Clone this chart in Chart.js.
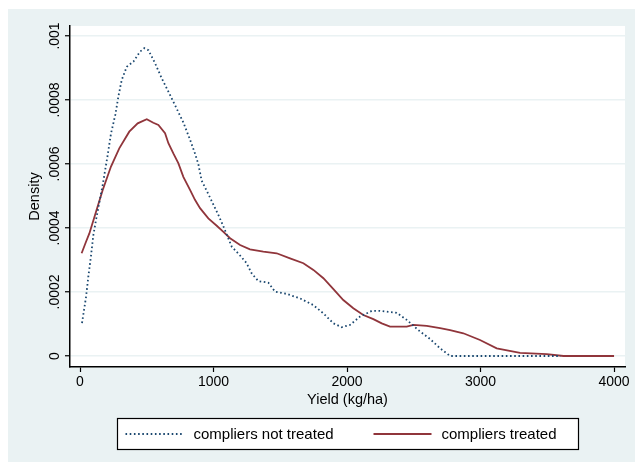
<!DOCTYPE html>
<html>
<head>
<meta charset="utf-8">
<script src="https://cdn.jsdelivr.net/npm/chart.js@4"></script>
<style>
  body { margin: 0; background: #fff; }
  #wrap { position: absolute; left: 8px; top: 9px; width: 627px; height: 453px; background: #eaf2f3; }
</style>
</head>
<body>
<div id="wrap"><canvas id="chart" width="627" height="453"></canvas></div>
<script>
// density curves (yield kg/ha -> density)
const notTreatedX = [15, 45, 62, 82, 100, 122, 170, 206, 232, 265, 287, 312, 350, 400, 449, 482, 512, 562, 612, 674, 724, 774, 824, 861, 886, 911, 974, 1036, 1073, 1136, 1199, 1248, 1286, 1336, 1411, 1461, 1548, 1648, 1748, 1823, 1898, 1960, 2022, 2097, 2185, 2247, 2372, 2447, 2534, 2622, 2697, 2772, 3600];
const notTreatedY = [0.000103, 0.000184, 0.000247, 0.000312, 0.000378, 0.000430, 0.000535, 0.000625, 0.000695, 0.000755, 0.000810, 0.000862, 0.000904, 0.000920, 0.000951, 0.000962, 0.000956, 0.000915, 0.000868, 0.000816, 0.000773, 0.000730, 0.000676, 0.000633, 0.000600, 0.000548, 0.000495, 0.000441, 0.000406, 0.000342, 0.000314, 0.000290, 0.000258, 0.000234, 0.000229, 0.000201, 0.000194, 0.000180, 0.000159, 0.000133, 0.000102, 0.000090, 0.000097, 0.000123, 0.000141, 0.000141, 0.000135, 0.000113, 0.000081, 0.000053, 0.000024, 0, 0];

const treatedX = [12, 45, 70, 120, 170, 232, 294, 369, 432, 500, 549, 587, 637, 662, 699, 737, 774, 824, 861, 899, 961, 1024, 1074, 1124, 1199, 1273, 1373, 1473, 1573, 1673, 1748, 1823, 1898, 1972, 2047, 2122, 2197, 2260, 2322, 2447, 2497, 2597, 2697, 2772, 2871, 2996, 3121, 3296, 3496, 3621, 4000];
const treatedY = [0.000321, 0.000357, 0.000383, 0.000451, 0.000519, 0.000592, 0.000649, 0.000701, 0.000727, 0.000740, 0.000729, 0.000722, 0.000696, 0.000665, 0.000633, 0.000602, 0.000560, 0.000519, 0.000488, 0.000462, 0.000430, 0.000407, 0.000388, 0.000368, 0.000347, 0.000333, 0.000326, 0.000321, 0.000305, 0.000290, 0.000269, 0.000243, 0.000209, 0.000175, 0.000149, 0.000128, 0.000115, 0.000102, 0.000092, 0.000092, 0.000097, 0.000094, 0.000087, 0.000081, 0.000071, 0.000050, 0.000024, 0.000010, 0.000006, 0, 0];

const seriesNames = ["compliers not treated", "compliers treated"];
const xTicks = [0, 1000, 2000, 3000, 4000];
const yTicks = [0, 0.0002, 0.0004, 0.0006, 0.0008, 0.001];
const yTickLabels = ["0", ".0002", ".0004", ".0006", ".0008", ".001"];

const NAVY = "#1a476f";
const MAROON = "#90353b";
const FONT = "'Liberation Sans', Arial, sans-serif";

const pts = (xs, ys) => xs.map((x, i) => ({ x, y: ys[i] }));

// white plot region
const plotBg = {
  id: "plotBg",
  beforeDraw(chart) {
    const { ctx, chartArea: a } = chart;
    ctx.save();
    ctx.fillStyle = "#fff";
    ctx.fillRect(a.left, a.top, a.right - a.left, a.bottom - a.top);
    ctx.restore();
  }
};

// vertical y tick labels, stata style
const yLabels = {
  id: "yLabels",
  afterDraw(chart) {
    const { ctx } = chart;
    const y = chart.scales.y;
    ctx.save();
    ctx.fillStyle = "#000";
    ctx.font = "14px " + FONT;
    ctx.textAlign = "center";
    ctx.textBaseline = "alphabetic";
    yTicks.forEach((v, i) => {
      ctx.save();
      ctx.translate(50.5, y.getPixelForValue(v));
      ctx.rotate(-Math.PI / 2);
      ctx.fillText(yTickLabels[i], 0, 0);
      ctx.restore();
    });
    ctx.restore();
  }
};

// boxed legend under the axis title
const boxLegend = {
  id: "boxLegend",
  afterDraw(chart) {
    const { ctx, chartArea: a } = chart;
    const ds = chart.data.datasets;
    const w = 461, h = 31;
    const left = Math.round((a.left + a.right) / 2 - w / 2) + 0.5;
    const top = a.bottom + 51.5;
    ctx.save();
    ctx.fillStyle = "#fff";
    ctx.fillRect(left, top, w, h);
    ctx.strokeStyle = "#000";
    ctx.lineWidth = 1.2;
    ctx.strokeRect(left, top, w, h);

    ctx.font = "15px " + FONT;
    ctx.textBaseline = "alphabetic";
    const lineY = top + h / 2;
    const starts = [left + 8, left + 256];
    ds.forEach((d, i) => {
      const x0 = starts[i];
      ctx.beginPath();
      ctx.strokeStyle = d.borderColor;
      ctx.lineWidth = d.borderWidth;
      ctx.setLineDash(d.borderDash || []);
      ctx.moveTo(x0, lineY);
      ctx.lineTo(x0 + 58, lineY);
      ctx.stroke();
      ctx.setLineDash([]);
      ctx.fillStyle = "#000";
      ctx.fillText(d.label, x0 + 68, top + 20);
    });
    ctx.restore();
  }
};

new Chart(document.getElementById("chart"), {
  type: "line",
  data: {
    datasets: [
      {
        label: seriesNames[0],
        data: pts(notTreatedX, notTreatedY),
        borderColor: NAVY,
        borderWidth: 1.8,
        borderDash: [1.6, 2.6],
        pointRadius: 0,
        tension: 0,
        fill: false
      },
      {
        label: seriesNames[1],
        data: pts(treatedX, treatedY),
        borderColor: MAROON,
        borderWidth: 1.8,
        pointRadius: 0,
        tension: 0,
        fill: false
      }
    ]
  },
  options: {
    responsive: false,
    animation: false,
    layout: { padding: { top: 17, right: 10, left: 0, bottom: 0 } },
    plugins: {
      legend: { display: false },
      tooltip: { enabled: false }
    },
    scales: {
      x: {
        type: "linear",
        min: -75,
        max: 4082,
        afterBuildTicks: s => { s.ticks = xTicks.map(v => ({ value: v })); },
        afterFit: s => { s.height = 95; },
        grid: { drawOnChartArea: false, drawTicks: true, tickLength: 5, tickColor: "#000", tickWidth: 1.2 },
        border: { color: "#000", width: 1.5 },
        ticks: {
          color: "#000",
          font: { family: FONT, size: 14 },
          padding: 2,
          maxRotation: 0,
          callback: v => String(v)
        },
        title: {
          display: true,
          text: "Yield (kg/ha)",
          color: "#000",
          font: { family: FONT, size: 14.5 },
          padding: { top: 0, bottom: 53.6 }
        }
      },
      y: {
        type: "linear",
        min: -0.0000344,
        max: 0.00103125,
        afterBuildTicks: s => { s.ticks = yTicks.map(v => ({ value: v })); },
        afterFit: s => { s.width = 62; },
        grid: { color: "#eaf2f3", lineWidth: 1.5, drawTicks: true, tickLength: 5, tickColor: "#000", tickWidth: 1.2 },
        border: { color: "#000", width: 1.5 },
        ticks: { display: false },
        title: {
          display: true,
          text: "Density",
          color: "#000",
          font: { family: FONT, size: 14.5 },
          padding: { top: 18, bottom: 0 }
        }
      }
    }
  },
  plugins: [plotBg, yLabels, boxLegend]
});
</script>
</body>
</html>
